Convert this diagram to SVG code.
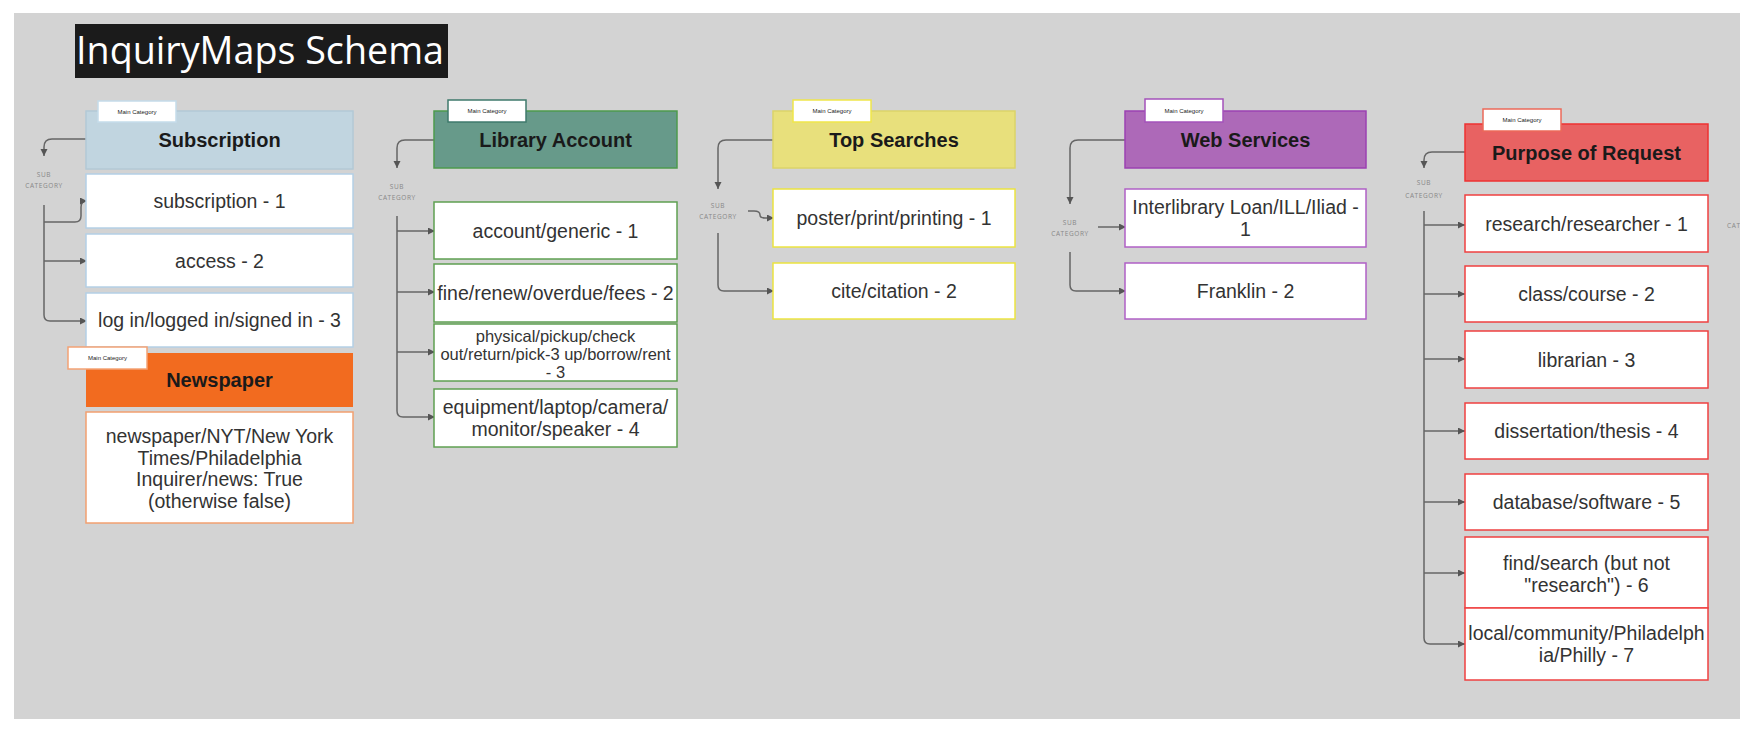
<svg xmlns="http://www.w3.org/2000/svg" width="1740" height="729" viewBox="0 0 1740 729">
<defs>
<marker id="arr" markerUnits="userSpaceOnUse" markerWidth="8" markerHeight="8" refX="7" refY="3.5" orient="auto">
<path d="M0,0 L7,3.5 L0,7 z" fill="#555"/>
</marker>
<style>
.bg{fill:#d3d3d3}
.t{font-family:"Liberation Sans",Arial,sans-serif;fill:#333;text-anchor:middle;font-size:19.5px}
.ts{font-size:16.5px}
.h{font-family:"Liberation Sans",Arial,sans-serif;font-weight:bold;fill:#1a1a1a;text-anchor:middle;font-size:20px}
.tag{fill:#fff;stroke-width:1.5}
.tagt{font-family:"Liberation Sans",Arial,sans-serif;font-size:6px;fill:#222;text-anchor:middle}
.sub{font-family:"Open Sans","Liberation Sans",sans-serif;font-size:6.5px;fill:#888;text-anchor:middle;letter-spacing:0.6px}
.box{fill:#fff;stroke-width:1.5}
.c{fill:none;stroke:#666;stroke-width:1.5;marker-end:url(#arr)}
.cn{fill:none;stroke:#666;stroke-width:1.5}
</style>
</defs>
<rect x="0" y="0" width="1740" height="729" fill="#fff"/>
<rect class="bg" x="14" y="13" width="1726" height="706"/>

<g id="title">
<rect x="75" y="24" width="373" height="54" fill="#1b1b1b"/>
<text x="76" y="64" font-family="Open Sans,Liberation Sans,sans-serif" font-size="39" fill="#fff" textLength="368" lengthAdjust="spacingAndGlyphs">InquiryMaps Schema</text>
</g>

<g id="connectors">
<!-- Subscription -->
<path class="c" d="M86,139 H52 Q44,139 44,147 V156"/>
<path class="cn" d="M44,205 V222"/>
<path class="c" d="M44,222 H75 Q81,222 81,216 V207 Q81,201 87,201"/>
<path class="c" d="M44,222 V315 Q44,321 50,321 H87"/>
<path class="c" d="M44,261 H87"/>
<!-- Library Account -->
<path class="c" d="M434,140 H405 Q397,140 397,148 V168"/>
<path class="c" d="M397,216 V411 Q397,417 403,417 H435"/>
<path class="c" d="M397,231 H435"/>
<path class="c" d="M397,292 H435"/>
<path class="c" d="M397,352 H435"/>
<!-- Top Searches -->
<path class="c" d="M773,140 H726 Q718,140 718,148 V189"/>
<path class="c" d="M748,211 H754 Q760,211 760,215 Q760,218 765,218 H774"/>
<path class="c" d="M718,233 V285 Q718,291 724,291 H774"/>
<!-- Web Services -->
<path class="c" d="M1125,140 H1078 Q1070,140 1070,148 V204"/>
<path class="c" d="M1098,227 H1126"/>
<path class="c" d="M1070,252 V285 Q1070,291 1076,291 H1126"/>
<!-- Purpose of Request -->
<path class="c" d="M1465,152 H1432 Q1424,152 1424,160 V168"/>
<path class="c" d="M1424,211 V638 Q1424,644 1430,644 H1465"/>
<path class="c" d="M1424,225 H1465"/>
<path class="c" d="M1424,294 H1465"/>
<path class="c" d="M1424,359 H1465"/>
<path class="c" d="M1424,431 H1465"/>
<path class="c" d="M1424,502 H1465"/>
<path class="c" d="M1424,573 H1465"/>
</g>

<g id="subcategory-labels">
<text class="sub" x="44" y="177">SUB</text><text class="sub" x="44" y="188">CATEGORY</text>
<text class="sub" x="397" y="189">SUB</text><text class="sub" x="397" y="200">CATEGORY</text>
<text class="sub" x="718" y="208">SUB</text><text class="sub" x="718" y="219">CATEGORY</text>
<text class="sub" x="1070" y="225">SUB</text><text class="sub" x="1070" y="236">CATEGORY</text>
<text class="sub" x="1424" y="185">SUB</text><text class="sub" x="1424" y="198">CATEGORY</text>
<text class="sub" x="1727" y="228" style="text-anchor:start">CATEGORY</text>
</g>

<!-- Subscription -->
<g id="subscription">
<rect x="86" y="111" width="267" height="58" fill="#c1d5e0" stroke="#b3c9d6" stroke-width="1.5"/>
<text class="h" x="219.5" y="147">Subscription</text>
<rect class="tag" x="98" y="101" width="78" height="21" stroke="#c5dcea"/>
<text class="tagt" x="137" y="113.5">Main Category</text>
</g>
<g id="subscription-1"><rect class="box" x="86" y="174" width="267" height="54" stroke="#b4d0e6"/><text class="t" x="219.5" y="208">subscription - 1</text></g>
<g id="access-2"><rect class="box" x="86" y="234" width="267" height="53" stroke="#b4d0e6"/><text class="t" x="219.5" y="267.5">access - 2</text></g>
<g id="login-3"><rect class="box" x="86" y="293" width="267" height="54" stroke="#b4d0e6"/><text class="t" x="219.5" y="327">log in/logged in/signed in - 3</text></g>

<!-- Newspaper -->
<g id="newspaper">
<rect x="86" y="353" width="267" height="54" fill="#f26b1f"/>
<text class="h" x="219.5" y="387">Newspaper</text>
<rect class="tag" x="68" y="347" width="79" height="22" stroke="#f4a375"/>
<text class="tagt" x="107.5" y="360">Main Category</text>
</g>
<g id="newspaper-values"><rect class="box" x="86" y="412" width="267" height="111" stroke="#f2a070"/>
<text class="t" x="219.5" y="443">newspaper/NYT/New York</text>
<text class="t" x="219.5" y="464.5">Times/Philadelphia</text>
<text class="t" x="219.5" y="486">Inquirer/news: True</text>
<text class="t" x="219.5" y="507.5">(otherwise false)</text>
</g>

<!-- Library Account -->
<g id="library-account">
<rect x="434" y="111" width="243" height="57" fill="#679a8a" stroke="#4d9a4d" stroke-width="1.5"/>
<text class="h" x="555.5" y="147">Library Account</text>
<rect class="tag" x="448" y="100" width="78" height="22" stroke="#3f7a6c"/>
<text class="tagt" x="487" y="113">Main Category</text>
</g>
<g id="account-1"><rect class="box" x="434" y="202" width="243" height="57" stroke="#5fa052"/><text class="t" x="555.5" y="237.5">account/generic - 1</text></g>
<g id="fine-2"><rect class="box" x="434" y="264" width="243" height="58" stroke="#5fa052"/><text class="t" x="555.5" y="300">fine/renew/overdue/fees - 2</text></g>
<g id="physical-3"><rect class="box" x="434" y="324" width="243" height="57" stroke="#5fa052"/>
<text class="t ts" x="555.5" y="342">physical/pickup/check</text>
<text class="t ts" x="555.5" y="360">out/return/pick-3 up/borrow/rent</text>
<text class="t ts" x="555.5" y="378">- 3</text>
</g>
<g id="equipment-4"><rect class="box" x="434" y="389" width="243" height="58" stroke="#5fa052"/>
<text class="t" x="555.5" y="414">equipment/laptop/camera/</text>
<text class="t" x="555.5" y="435.5">monitor/speaker - 4</text>
</g>

<!-- Top Searches -->
<g id="top-searches">
<rect x="773" y="111" width="242" height="57" fill="#e8e07c" stroke="#dcd468" stroke-width="1.5"/>
<text class="h" x="894" y="147">Top Searches</text>
<rect class="tag" x="793" y="100" width="78" height="22" stroke="#efe64a"/>
<text class="tagt" x="832" y="113">Main Category</text>
</g>
<g id="poster-1"><rect class="box" x="773" y="189" width="242" height="58" stroke="#ece440"/><text class="t" x="894" y="225">poster/print/printing - 1</text></g>
<g id="cite-2"><rect class="box" x="773" y="263" width="242" height="56" stroke="#ece440"/><text class="t" x="894" y="298">cite/citation - 2</text></g>

<!-- Web Services -->
<g id="web-services">
<rect x="1125" y="111" width="241" height="57" fill="#ad69b8" stroke="#9c42b2" stroke-width="1.5"/>
<text class="h" x="1245.5" y="147">Web Services</text>
<rect class="tag" x="1145" y="99" width="78" height="23" stroke="#a452bb"/>
<text class="tagt" x="1184" y="112.5">Main Category</text>
</g>
<g id="ill-1"><rect class="box" x="1125" y="189" width="241" height="58" stroke="#b060c6"/>
<text class="t" x="1245.5" y="214">Interlibrary Loan/ILL/Iliad -</text>
<text class="t" x="1245.5" y="236">1</text>
</g>
<g id="franklin-2"><rect class="box" x="1125" y="263" width="241" height="56" stroke="#b060c6"/><text class="t" x="1245.5" y="298">Franklin - 2</text></g>

<!-- Purpose of Request -->
<g id="purpose-of-request">
<rect x="1465" y="124" width="243" height="57" fill="#e86262" stroke="#ee3232" stroke-width="1.5"/>
<text class="h" x="1586.5" y="160">Purpose of Request</text>
<rect class="tag" x="1483" y="109" width="78" height="22" stroke="#ec6a5a"/>
<text class="tagt" x="1522" y="122">Main Category</text>
</g>
<g id="research-1"><rect class="box" x="1465" y="195" width="243" height="57" stroke="#ef4040"/><text class="t" x="1586.5" y="230.5">research/researcher - 1</text></g>
<g id="class-2"><rect class="box" x="1465" y="266" width="243" height="56" stroke="#ef4040"/><text class="t" x="1586.5" y="301">class/course - 2</text></g>
<g id="librarian-3"><rect class="box" x="1465" y="331" width="243" height="57" stroke="#ef4040"/><text class="t" x="1586.5" y="366.5">librarian - 3</text></g>
<g id="dissertation-4"><rect class="box" x="1465" y="403" width="243" height="56" stroke="#ef4040"/><text class="t" x="1586.5" y="438">dissertation/thesis - 4</text></g>
<g id="database-5"><rect class="box" x="1465" y="474" width="243" height="56" stroke="#ef4040"/><text class="t" x="1586.5" y="509">database/software - 5</text></g>
<g id="find-6"><rect class="box" x="1465" y="537" width="243" height="71" stroke="#ef4040"/>
<text class="t" x="1586.5" y="570">find/search (but not</text>
<text class="t" x="1586.5" y="591.5">"research") - 6</text>
</g>
<g id="local-7"><rect class="box" x="1465" y="608" width="243" height="72" stroke="#ef4040"/>
<text class="t" x="1586.5" y="640">local/community/Philadelph</text>
<text class="t" x="1586.5" y="662">ia/Philly - 7</text>
</g>
</svg>
